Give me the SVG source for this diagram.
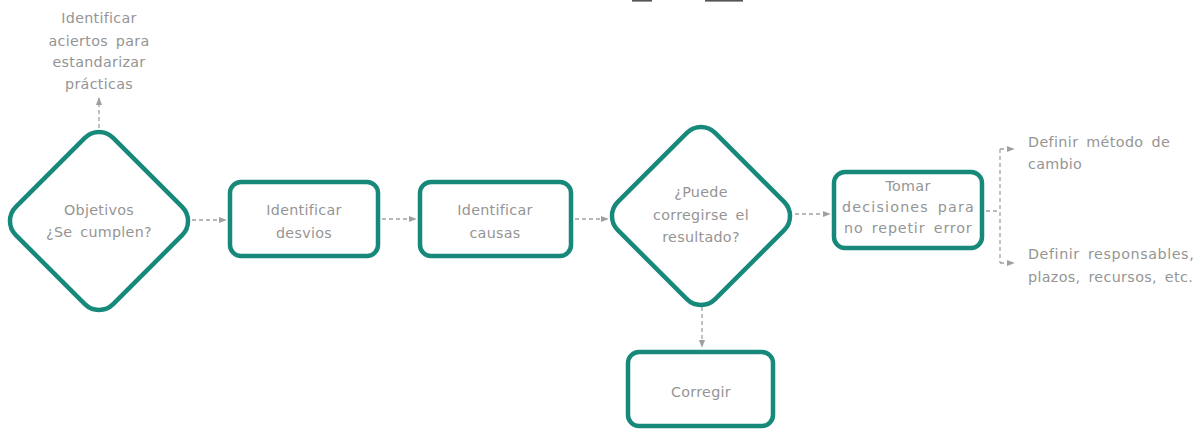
<svg xmlns="http://www.w3.org/2000/svg" width="1198" height="430" viewBox="0 0 1198 430">
<defs>
<style>
.node{fill:#fff;stroke:#17897b;stroke-width:4.5}
.t{font-family:"DejaVu Sans","Liberation Sans",sans-serif;font-size:14.3px;fill:#959595;text-anchor:middle;letter-spacing:0.3px;word-spacing:3px}
.tl{font-family:"DejaVu Sans","Liberation Sans",sans-serif;font-size:14.3px;fill:#959595;letter-spacing:0.3px;word-spacing:3px}
.c{fill:none;stroke:#a0a0a0;stroke-width:1.3;stroke-dasharray:4 3}
</style>
<marker id="ah" viewBox="0 0 10 10" refX="9" refY="5" markerWidth="6" markerHeight="6" orient="auto">
<path d="M0,1 L10,5 L0,9 z" fill="#a0a0a0"/>
</marker>
</defs>
<rect width="1198" height="430" fill="#fff"/>
<rect x="632" y="0" width="20" height="1.6" fill="#555"/>
<rect x="705" y="0" width="38" height="1.6" fill="#555"/>

<g id="connectors">
<path class="c" d="M99,128 V98" marker-end="url(#ah)"/>
<path class="c" d="M192,220 H226" marker-end="url(#ah)"/>
<path class="c" d="M382,219 H416" marker-end="url(#ah)"/>
<path class="c" d="M575,219 H608" marker-end="url(#ah)"/>
<path class="c" d="M795,214 H830" marker-end="url(#ah)"/>
<path class="c" d="M986,211 H1000"/>
<path class="c" d="M1000,149 V263"/>
<path class="c" d="M1000,149 H1014" marker-end="url(#ah)"/>
<path class="c" d="M1000,263 H1014" marker-end="url(#ah)"/>
<path class="c" d="M702,307 V347" marker-end="url(#ah)"/>
</g>

<g id="n-top">
<text class="t" x="99" y="23">Identificar</text>
<text class="t" x="99" y="46">aciertos para</text>
<text class="t" x="99" y="67">estandarizar</text>
<text class="t" x="99" y="89">prácticas</text>
</g>

<g id="n-objetivos">
<rect class="node" x="30.2" y="152.2" width="137.6" height="137.6" rx="20" transform="rotate(45 99 221)"/>
<text class="t" x="99" y="215">Objetivos</text>
<text class="t" x="99" y="237">¿Se cumplen?</text>
</g>

<g id="n-desvios">
<rect class="node" x="230" y="182" width="148" height="74" rx="11"/>
<text class="t" x="304" y="215">Identificar</text>
<text class="t" x="304" y="238">desvios</text>
</g>

<g id="n-causas">
<rect class="node" x="420" y="182" width="151" height="74" rx="11"/>
<text class="t" x="495" y="215">Identificar</text>
<text class="t" x="495" y="238">causas</text>
</g>

<g id="n-puede">
<rect class="node" x="632.2" y="147.2" width="137.6" height="137.6" rx="20" transform="rotate(45 701 216)"/>
<text class="t" x="701" y="197">¿Puede</text>
<text class="t" x="701" y="220">corregirse el</text>
<text class="t" x="701" y="242">resultado?</text>
</g>

<g id="n-tomar">
<rect class="node" x="834" y="172" width="148" height="76" rx="11"/>
<text class="t" x="908" y="191">Tomar</text>
<text class="t" x="908" y="212" textLength="132" lengthAdjust="spacing">decisiones para</text>
<text class="t" x="908" y="233" textLength="128" lengthAdjust="spacing">no repetir error</text>
</g>

<g id="n-corregir">
<rect class="node" x="628" y="352" width="145" height="74" rx="11"/>
<text class="t" x="701" y="397">Corregir</text>
</g>

<g id="n-metodo">
<text class="tl" x="1028" y="147" textLength="142" lengthAdjust="spacing">Definir método de</text>
<text class="tl" x="1028" y="169">cambio</text>
</g>

<g id="n-responsables">
<text class="tl" x="1028" y="259" textLength="166" lengthAdjust="spacing">Definir responsables,</text>
<text class="tl" x="1028" y="282" textLength="165" lengthAdjust="spacing">plazos, recursos, etc.</text>
</g>
</svg>
